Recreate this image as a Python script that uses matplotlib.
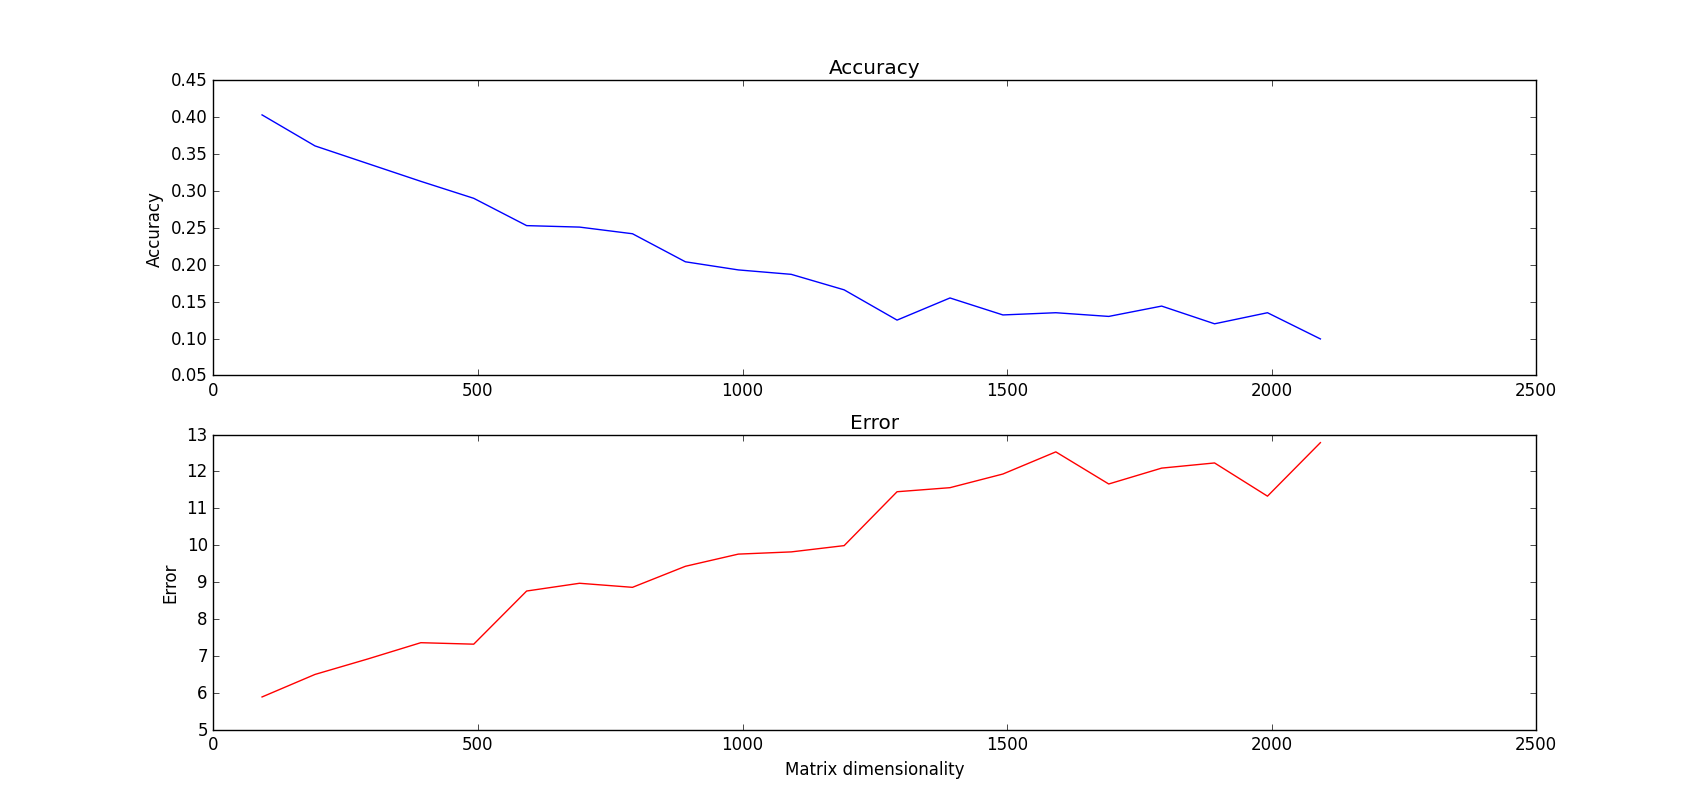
import matplotlib
matplotlib.use("Agg")
import matplotlib.pyplot as plt

plt.style.use('classic')

dims = [92, 192, 292, 392, 492, 592, 692, 792, 892, 992, 1092,
        1192, 1292, 1392, 1492, 1592, 1692, 1792, 1892, 1992, 2092]
accuracy = [0.403, 0.361, 0.337, 0.313, 0.290, 0.253, 0.251, 0.242, 0.204, 0.193, 0.187,
            0.166, 0.125, 0.155, 0.132, 0.135, 0.130, 0.144, 0.120, 0.135, 0.0995]
error = [5.89, 6.50, 6.92, 7.36, 7.32, 8.76, 8.97, 8.86, 9.43, 9.76, 9.82,
         9.99, 11.45, 11.56, 11.93, 12.53, 11.66, 12.09, 12.23, 11.33, 12.78]

fig = plt.figure(figsize=(17.07, 8.12), dpi=100)

ax1 = fig.add_subplot(2, 1, 1)
ax1.plot(dims, accuracy, color='b')
ax1.set_title("Accuracy")
ax1.set_ylabel("Accuracy")
ax1.set_xlim(0, 2500)
ax1.set_ylim(0.05, 0.45)

ax2 = fig.add_subplot(2, 1, 2)
ax2.plot(dims, error, color='r')
ax2.set_title("Error")
ax2.set_ylabel("Error")
ax2.set_xlabel("Matrix dimensionality")
ax2.set_xlim(0, 2500)
ax2.set_ylim(5, 13)

fig.savefig("out.png", dpi=100, facecolor='white')
